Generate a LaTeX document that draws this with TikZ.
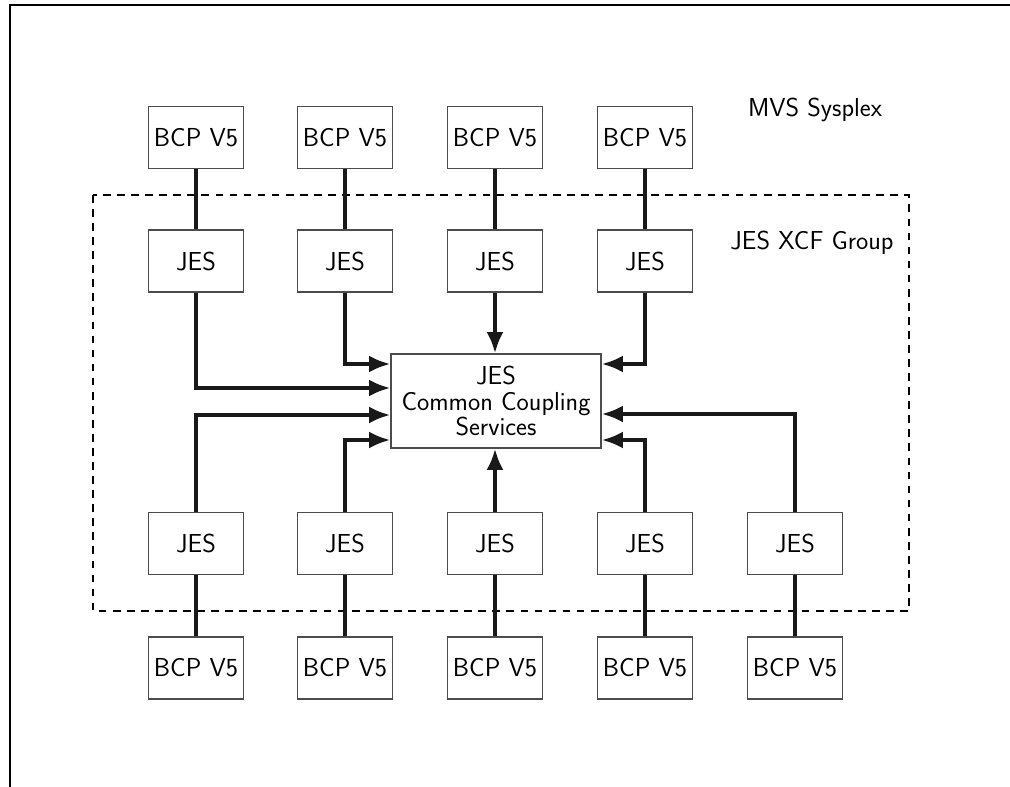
\documentclass[tikz,border=0pt]{standalone}
\usetikzlibrary{positioning}
\usetikzlibrary{calc}
\usetikzlibrary{arrows.meta}

\tikzset{
  sysbox/.style={draw=black!70, line width=1pt, minimum width=23.75mm, minimum height=15.5mm, inner sep=0pt},
  link/.style={line width=2.6pt, black!90},
  txt/.style={font=\sffamily\fontsize{18.5}{18}\selectfont},
}

\begin{document}
\begin{tikzpicture}[x=0.25mm, y=-0.25mm, >={Latex[length=15pt,width=12pt]}, every node/.style={txt}]
      \useasboundingbox (0,0) rectangle (1010,787);
      \draw[line width=1.6pt] (10,787) -- (10,5) -- (1010,5);

      % XCF group
      \draw[line width=1.2pt, dash pattern=on 5.5pt off 4.5pt] (93,195) rectangle (909,611);
      \node (sysplex) at (815,110) {MVS Sysplex};
      \node (xcf) at (812,243) {JES XCF Group};

      \node[sysbox, minimum width=52.5mm, minimum height=23.5mm, align=center] (ccs) at (496,401) {JES\\Common Coupling\\Services};

      \foreach \i/\x in {1/196, 2/345, 3/495, 4/645} {
        \node[sysbox] (bcpt\i) at (\x,137.5) {BCP V5};
        \node[sysbox] (jest\i) at (\x,261) {JES};
        \draw[link] (bcpt\i) -- (jest\i);
      }
      \foreach \i/\x in {1/196, 2/345, 3/495, 4/645, 5/795} {
        \node[sysbox] (jesb\i) at (\x,543.5) {JES};
        \node[sysbox] (bcpb\i) at (\x,668) {BCP V5};
        \draw[link] (jesb\i) -- (bcpb\i);
      }

      % into the coupling services
      \draw[link, ->] (jest1.south) |- (ccs.west |- 0,388);
      \draw[link, ->] (jest2.south) |- (ccs.west |- 0,364);
      \draw[link, ->] (jest3.south) -- (jest3.south |- ccs.north);
      \draw[link, ->] (jest4.south) |- (ccs.east |- 0,364);
      \draw[link, ->] (jesb1.north) |- (ccs.west |- 0,415);
      \draw[link, ->] (jesb2.north) |- (ccs.west |- 0,440);
      \draw[link, ->] (jesb3.north) -- (jesb3.north |- ccs.south);
      \draw[link, ->] (jesb4.north) |- (ccs.east |- 0,440);
      \draw[link, ->] (jesb5.north) |- (ccs.east |- 0,414);
\end{tikzpicture}
\end{document}
